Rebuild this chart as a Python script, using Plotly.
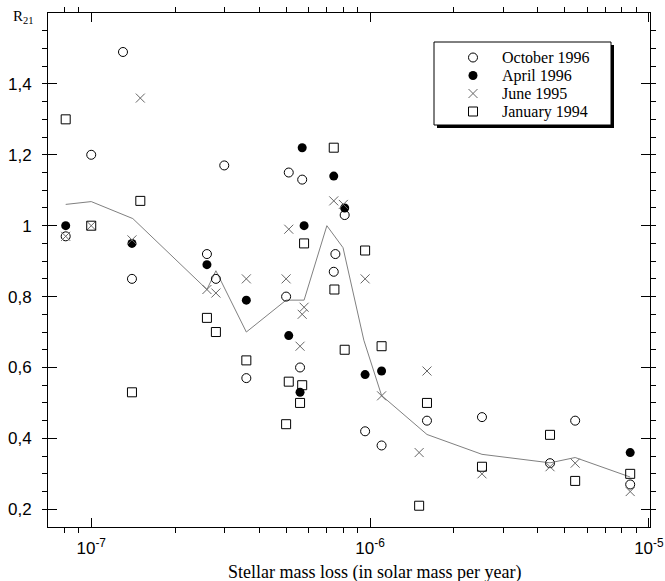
import plotly.graph_objects as go

# ---- observations: stellar mass loss (Msun/yr) vs line ratio R21 ----
oct96_x = [8.1e-8, 1.0e-7, 1.3e-7, 1.4e-7, 2.6e-7, 2.8e-7, 3.0e-7, 3.6e-7, 5.0e-7, 5.11e-7,
           5.61e-7, 5.71e-7, 7.41e-7, 7.51e-7, 8.11e-7, 9.6e-7, 1.1e-6, 1.6e-6, 2.52e-6,
           4.42e-6, 5.44e-6, 8.57e-6]
oct96_y = [0.97, 1.20, 1.49, 0.85, 0.92, 0.85, 1.17, 0.57, 0.80, 1.15,
           0.60, 1.13, 0.87, 0.92, 1.03, 0.42, 0.38, 0.45, 0.46,
           0.33, 0.45, 0.27]

apr96_x = [8.1e-8, 1.4e-7, 2.6e-7, 3.6e-7, 5.11e-7, 5.61e-7, 5.71e-7, 5.8e-7, 7.41e-7,
           8.11e-7, 9.6e-7, 1.1e-6, 8.57e-6]
apr96_y = [1.00, 0.95, 0.89, 0.79, 0.69, 0.53, 1.22, 1.00, 1.14,
           1.05, 0.58, 0.59, 0.36]

jun95_x = [8.1e-8, 1.0e-7, 1.4e-7, 1.5e-7, 2.6e-7, 2.8e-7, 3.6e-7, 5.0e-7, 5.11e-7,
           5.61e-7, 5.71e-7, 5.8e-7, 7.41e-7, 8.02e-7, 9.6e-7, 1.1e-6, 1.5e-6, 1.6e-6,
           2.52e-6, 4.42e-6, 5.44e-6, 8.57e-6]
jun95_y = [0.97, 1.00, 0.96, 1.36, 0.82, 0.81, 0.85, 0.85, 0.99,
           0.66, 0.75, 0.77, 1.07, 1.06, 0.85, 0.52, 0.36, 0.59,
           0.30, 0.32, 0.33, 0.25]

jan94_x = [8.1e-8, 1.0e-7, 1.4e-7, 1.5e-7, 2.6e-7, 2.8e-7, 3.6e-7, 5.0e-7, 5.11e-7,
           5.61e-7, 5.71e-7, 5.8e-7, 7.41e-7, 7.45e-7, 8.11e-7, 9.6e-7, 1.1e-6, 1.5e-6,
           1.6e-6, 2.52e-6, 4.42e-6, 5.44e-6, 8.57e-6]
jan94_y = [1.30, 1.00, 0.53, 1.07, 0.74, 0.70, 0.62, 0.44, 0.56,
           0.50, 0.55, 0.95, 1.22, 0.82, 0.65, 0.93, 0.66, 0.21,
           0.50, 0.32, 0.41, 0.28, 0.30]

# mean trend curve
mean_x = [8.1e-8, 1.0e-7, 1.41e-7, 2.6e-7, 2.8e-7, 3.6e-7, 5.0e-7, 5.8e-7, 7.0e-7,
          8.0e-7, 9.5e-7, 1.1e-6, 1.6e-6, 2.52e-6, 4.42e-6, 5.44e-6, 8.57e-6]
mean_y = [1.06, 1.068, 1.02, 0.82, 0.873, 0.70, 0.79, 0.79, 1.00,
          0.938, 0.677, 0.521, 0.411, 0.355, 0.331, 0.346, 0.291]

series_names = ["October 1996", "April 1996", "June 1995", "January 1994"]

x_tickvals = [1e-7, 1e-6, 1e-5]
x_ticktext = ["10<sup>-7</sup>", "10<sup>-6</sup>", "10<sup>-5</sup>"]
y_tickvals = [0.2, 0.4, 0.6, 0.8, 1.0, 1.2, 1.4]
y_ticktext = ["0,2", "0,4", "0,6", "0,8", "1", "1,2", "1,4"]

# ---- page geometry (pixels) ----
W, H = 665, 581
ML, MR, MT, MB = 48, 15, 13, 54
PW, PH = W - ML - MR, H - MT - MB


def px_x(p):
    return (p - ML) / PW


def px_y(p):
    return (H - MB - p) / PH


SANS = "Liberation Sans, Arial, sans-serif"
SERIF = "Liberation Serif, Times New Roman, serif"

styles = [
    dict(symbol="circle-open", size=9, color="black", line=dict(width=1, color="black")),
    dict(symbol="circle", size=9, color="black", line=dict(width=0)),
    dict(symbol="x-thin", size=9, color="#666666", line=dict(width=1, color="#666666")),
    dict(symbol="square-open", size=9, color="black", line=dict(width=1, color="black")),
]
data_xy = [(oct96_x, oct96_y), (apr96_x, apr96_y), (jun95_x, jun95_y), (jan94_x, jan94_y)]

fig = go.Figure()

fig.add_trace(go.Scatter(x=mean_x, y=mean_y, mode="lines",
                         line=dict(color="#808080", width=1), showlegend=False,
                         hoverinfo="skip"))

for (xs, ys), st, name in zip(data_xy, styles, series_names):
    fig.add_trace(go.Scatter(x=xs, y=ys, mode="markers", name=name,
                             marker=st, showlegend=False))

# key panel: one row per series, drawn on its own small axes
rows = list(range(len(series_names)))
KEY_W, KEY_H = 177, 83
KEY_LEFT, KEY_TOP = 434, 42
ROW_STEP, ROW0 = 18, 15.5   # pixel spacing of key rows and offset of first row
for i, (st, name) in enumerate(zip(styles, series_names)):
    fig.add_trace(go.Scatter(x=[39], y=[rows[i]], mode="markers", marker=st,
                             xaxis="x2", yaxis="y2", showlegend=False, hoverinfo="skip"))
    fig.add_annotation(x=66, y=rows[i], xref="x2", yref="y2", text=name,
                       showarrow=False, xanchor="left", yanchor="middle",
                       font=dict(family=SERIF, size=16, color="black"))

# key box with drop shadow
fig.add_shape(type="rect", xref="x2 domain", yref="y2 domain",
              x0=3 / KEY_W, x1=1 + 3 / KEY_W, y0=-3 / KEY_H, y1=1 - 3 / KEY_H,
              fillcolor="black", line=dict(width=0), layer="below")
fig.add_shape(type="rect", xref="x2 domain", yref="y2 domain",
              x0=0, x1=1, y0=0, y1=1,
              fillcolor="white", line=dict(color="black", width=1), layer="below")

minor_x = [k * 10.0 ** e for e in (-8, -7, -6) for k in range(2, 10)]

fig.update_layout(
    width=W, height=H,
    margin=dict(l=ML, r=MR, t=MT, b=MB, pad=0, autoexpand=False),
    paper_bgcolor="white", plot_bgcolor="rgba(0,0,0,0)",
    showlegend=False,
    xaxis=dict(type="log", range=[-7.155, -4.996], automargin=False,
               tickmode="array", tickvals=x_tickvals, ticktext=x_ticktext,
               ticks="inside", ticklen=9, tickwidth=1, tickcolor="black",
               minor=dict(tickmode="array", tickvals=minor_x, ticklen=5,
                          tickwidth=1, tickcolor="black", showgrid=False),
               showline=True, linecolor="black", linewidth=1, mirror="ticks",
               showgrid=False, zeroline=False, ticklabelstandoff=6,
               tickfont=dict(family=SANS, size=17, color="black")),
    yaxis=dict(range=[0.15, 1.6], automargin=False,
               tickmode="array", tickvals=y_tickvals, ticktext=y_ticktext,
               ticks="inside", ticklen=9, tickwidth=1, tickcolor="black",
               minor=dict(tick0=0, dtick=0.05, ticklen=5, tickwidth=1,
                          tickcolor="black", showgrid=False),
               showline=True, linecolor="black", linewidth=1, mirror="ticks",
               showgrid=False, zeroline=False, ticklabelstandoff=12,
               tickfont=dict(family=SANS, size=17, color="black")),
    xaxis2=dict(domain=[px_x(KEY_LEFT), px_x(KEY_LEFT + KEY_W)], range=[0, KEY_W],
                anchor="y2", visible=False, fixedrange=True, automargin=False),
    yaxis2=dict(domain=[px_y(KEY_TOP + KEY_H), px_y(KEY_TOP)],
                range=[(KEY_H - ROW0) / ROW_STEP, -ROW0 / ROW_STEP],
                anchor="x2", visible=False, fixedrange=True, automargin=False),
)

fig.add_annotation(text="Stellar mass loss (in solar mass per year)",
                   xref="paper", yref="paper", x=px_x(374), y=px_y(572),
                   xanchor="center", yanchor="middle", showarrow=False,
                   font=dict(family=SERIF, size=18, color="black"))
fig.add_annotation(text="R<sub>21</sub>", xref="paper", yref="paper",
                   x=px_x(11), y=px_y(17), xanchor="left", yanchor="middle",
                   showarrow=False, font=dict(family=SERIF, size=15, color="black"))

fig.write_html("out.html")
